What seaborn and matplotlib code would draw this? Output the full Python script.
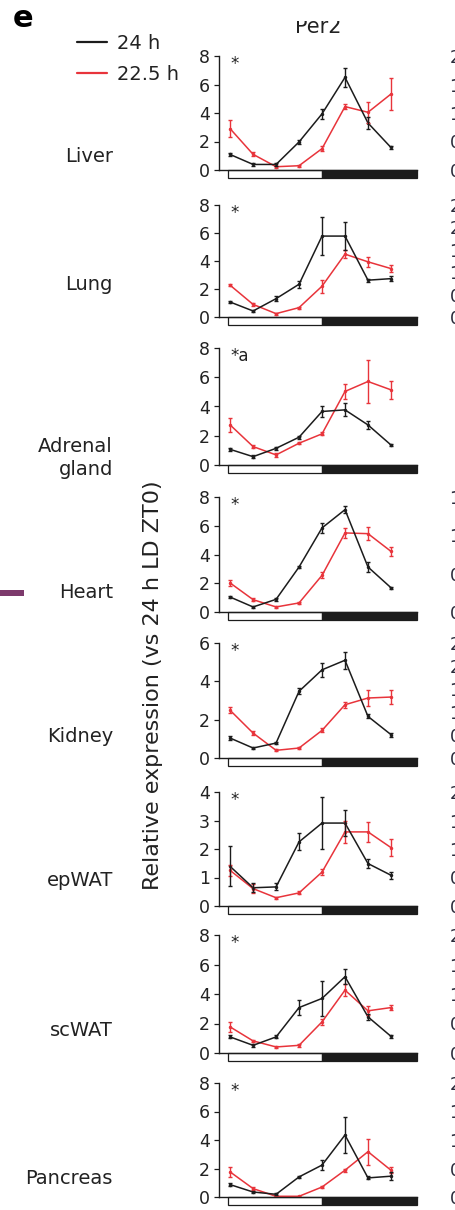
import numpy as np
import pandas as pd
import matplotlib
matplotlib.use("Agg")
import matplotlib.pyplot as plt
import matplotlib.transforms as mtransforms
from matplotlib.patches import Rectangle
from matplotlib.lines import Line2D
from matplotlib.ticker import FormatStrFormatter
import seaborn as sns

# ---------------- data ----------------
ZT = [0, 3, 6, 9, 12, 15, 18, 21]
conditions = ["24 h", "22.5 h"]
tissues = ["Liver", "Lung", "Adrenal\ngland", "Heart", "Kidney", "epWAT", "scWAT", "Pancreas"]
markers_txt = ["*", "*", "*a", "*", "*", "*", "*", "*"]
y_max = [8, 8, 8, 8, 6, 4, 8, 8]
y_step = [2, 2, 2, 2, 2, 1, 2, 2]
right_max = [2.0, 2.5, None, 1.5, 2.5, 2.0, 2.0, 2.0]   # tick labels of the neighbouring (cropped) column

liver_24 = [1.09, 0.39, 0.39, 1.97, 3.94, 6.50, 3.30, 1.58]
liver_24_err = [0.08, 0.08, 0.08, 0.15, 0.35, 0.65, 0.40, 0.08]
liver_225 = [2.90, 1.10, 0.23, 0.30, 1.50, 4.45, 4.05, 5.33]
liver_225_err = [0.60, 0.15, 0.08, 0.08, 0.15, 0.15, 0.75, 1.15]

lung_24 = [1.07, 0.43, 1.31, 2.34, 5.78, 5.78, 2.63, 2.74]
lung_24_err = [0.10, 0.08, 0.20, 0.25, 1.35, 1.00, 0.10, 0.20]
lung_225 = [2.27, 0.90, 0.24, 0.67, 2.20, 4.49, 3.94, 3.46]
lung_225_err = [0.08, 0.08, 0.08, 0.08, 0.45, 0.30, 0.35, 0.25]

adrenal_24 = [1.07, 0.57, 1.14, 1.90, 3.66, 3.77, 2.74, 1.37]
adrenal_24_err = [0.08, 0.08, 0.10, 0.10, 0.35, 0.45, 0.30, 0.08]
adrenal_225 = [2.74, 1.26, 0.69, 1.49, 2.13, 5.03, 5.71, 5.14]
adrenal_225_err = [0.45, 0.10, 0.15, 0.08, 0.10, 0.50, 1.50, 0.60]

heart_24 = [1.04, 0.35, 0.88, 3.13, 5.85, 7.12, 3.13, 1.69]
heart_24_err = [0.08, 0.08, 0.08, 0.08, 0.35, 0.25, 0.35, 0.08]
heart_225 = [2.02, 0.86, 0.35, 0.63, 2.55, 5.50, 5.45, 4.22]
heart_225_err = [0.20, 0.08, 0.08, 0.08, 0.20, 0.35, 0.45, 0.30]

kidney_24 = [1.04, 0.52, 0.78, 3.48, 4.60, 5.10, 2.17, 1.22]
kidney_24_err = [0.10, 0.05, 0.05, 0.15, 0.35, 0.45, 0.10, 0.10]
kidney_225 = [2.49, 1.30, 0.40, 0.52, 1.44, 2.78, 3.13, 3.18]
kidney_225_err = [0.15, 0.10, 0.05, 0.05, 0.10, 0.15, 0.40, 0.35]

epwat_24 = [1.39, 0.64, 0.67, 2.25, 2.91, 2.91, 1.49, 1.08]
epwat_24_err = [0.70, 0.15, 0.12, 0.30, 0.90, 0.45, 0.15, 0.12]
epwat_225 = [1.25, 0.61, 0.29, 0.46, 1.19, 2.60, 2.60, 2.05]
epwat_225_err = [0.20, 0.15, 0.04, 0.05, 0.10, 0.40, 0.35, 0.30]

scwat_24 = [1.09, 0.52, 1.09, 3.08, 3.70, 5.17, 2.45, 1.13]
scwat_24_err = [0.10, 0.08, 0.10, 0.50, 1.20, 0.50, 0.20, 0.08]
scwat_225 = [1.77, 0.82, 0.41, 0.52, 2.11, 4.26, 2.86, 3.08]
scwat_225_err = [0.35, 0.08, 0.08, 0.08, 0.20, 0.40, 0.30, 0.15]

pancreas_24 = [0.87, 0.35, 0.19, 1.41, 2.24, 4.35, 1.34, 1.46]
pancreas_24_err = [0.08, 0.08, 0.08, 0.08, 0.35, 1.25, 0.10, 0.30]
pancreas_225 = [1.76, 0.59, 0.05, 0.05, 0.70, 1.88, 3.18, 1.88]
pancreas_225_err = [0.35, 0.08, 0.04, 0.04, 0.08, 0.10, 0.90, 0.20]

series = [
    (liver_24, liver_24_err, liver_225, liver_225_err),
    (lung_24, lung_24_err, lung_225, lung_225_err),
    (adrenal_24, adrenal_24_err, adrenal_225, adrenal_225_err),
    (heart_24, heart_24_err, heart_225, heart_225_err),
    (kidney_24, kidney_24_err, kidney_225, kidney_225_err),
    (epwat_24, epwat_24_err, epwat_225, epwat_225_err),
    (scwat_24, scwat_24_err, scwat_225, scwat_225_err),
    (pancreas_24, pancreas_24_err, pancreas_225, pancreas_225_err),
]

# ---------------- style / layout ----------------
sns.set_style("ticks")
plt.rcParams["font.family"] = ["DejaVu Sans"]
plt.rcParams["axes.edgecolor"] = "#222222"

BLACK = "#1c1c1c"
RED = "#e8343b"
TXT = "#222222"

W, H = 456, 1210
fig = plt.figure(figsize=(W / 100, H / 100), dpi=100)
fig.patch.set_facecolor("white")


def fx(px):
    return px / W


def fy(py):
    return 1 - py / H


ax_left, ax_right = 219, 417
top_px = [56, 205, 348, 497, 643, 792, 935, 1083]
zero_px = [170, 317, 465, 612, 758, 906, 1053, 1197]
label_px = [157, 284, 458, 592, 736, 881, 1030, 1178]

for i in range(8):
    m24, e24, m22, e22 = series[i]
    ax = fig.add_axes([fx(ax_left), fy(zero_px[i]), fx(ax_right) - fx(ax_left),
                       (zero_px[i] - top_px[i]) / H])
    df = pd.DataFrame({
        "ZT": ZT + ZT,
        "expr": m24 + m22,
        "cond": [conditions[0]] * len(ZT) + [conditions[1]] * len(ZT),
    })
    sns.lineplot(data=df, x="ZT", y="expr", hue="cond", hue_order=conditions[::-1],
                 palette={conditions[0]: BLACK, conditions[1]: RED},
                 marker="o", markersize=2.5, markeredgewidth=0, linewidth=1.1,
                 errorbar=None, legend=False, ax=ax)
    ax.errorbar(ZT, m22, yerr=e22, fmt="none", ecolor=RED, elinewidth=1.0, capsize=1.5, capthick=1.0)
    ax.errorbar(ZT, m24, yerr=e24, fmt="none", ecolor=BLACK, elinewidth=1.0, capsize=1.5, capthick=1.0)

    ax.set_xlim(-1.45, 24.4)
    ax.set_ylim(0, y_max[i])
    ax.set_yticks(np.arange(0, y_max[i] + 0.001, y_step[i]))
    ax.set_xticks([])
    ax.set_xlabel("")
    ax.set_ylabel("")
    ax.patch.set_alpha(0)
    for s in ["top", "right"]:
        ax.spines[s].set_visible(False)
    for s in ["left", "bottom"]:
        ax.spines[s].set_linewidth(1.0)
        ax.spines[s].set_color(BLACK)
    ax.tick_params(axis="y", length=3.5, width=0.9, pad=3, labelsize=12.5,
                   colors=BLACK, labelcolor=TXT)

    # light / dark bar under the axis
    trans = mtransforms.blended_transform_factory(ax.transData, ax.transAxes)
    bh = 8 / (zero_px[i] - top_px[i])
    ax.add_patch(Rectangle((-0.3, -bh), 12.3, bh, transform=trans, facecolor="white",
                           edgecolor=BLACK, linewidth=0.9, clip_on=False))
    ax.add_patch(Rectangle((12, -bh), 12.4, bh, transform=trans, facecolor=BLACK,
                           edgecolor=BLACK, linewidth=0.9, clip_on=False))

    ax.text(0.06, 0.93, markers_txt[i], transform=ax.transAxes, ha="left", va="center",
            fontsize=12, color=TXT)

    fig.text(fx(113), fy(label_px[i]), tissues[i], ha="right", va="center",
             fontsize=14, color=TXT, linespacing=1.25)

    # neighbouring column (cropped by the figure edge): only its tick labels peek in
    if right_max[i] is not None:
        ax2 = fig.add_axes([fx(486), fy(zero_px[i]), 0.3, (zero_px[i] - top_px[i]) / H])
        ax2.set_ylim(0, right_max[i])
        ax2.set_yticks(np.arange(0, right_max[i] + 0.001, 0.5))
        ax2.yaxis.set_major_formatter(FormatStrFormatter("%.1f"))
        ax2.set_xticks([])
        for s in ["top", "right", "bottom"]:
            ax2.spines[s].set_visible(False)
        ax2.tick_params(axis="y", length=3.5, pad=3, labelsize=12.5, labelcolor="#2a2a3a")

# y label
fig.text(fx(153), fy(685), "Relative expression (vs 24 h LD ZT0)", rotation=90,
         ha="center", va="center", fontsize=16, color=TXT)

# panel letter
fig.text(fx(13), fy(27), "e", fontsize=22, fontweight="bold", ha="left", va="baseline", color="black")

# gene title (top partly cut away in the reference)
fig.text(fx(318), fy(33), "Per2", ha="center", va="baseline", fontsize=15, color=TXT)
fig.add_artist(Rectangle((fx(240), fy(21)), fx(180), 21 / H, transform=fig.transFigure,
                         facecolor="white", edgecolor="none", zorder=20))

# legend
handles = [Line2D([], [], color=BLACK, lw=1.6), Line2D([], [], color=RED, lw=1.6)]
fig.legend(handles, conditions, loc="upper left", bbox_to_anchor=(fx(77), fy(34)),
           frameon=False, fontsize=14, handlelength=1.55, handletextpad=0.5,
           labelspacing=0.6, borderpad=0, borderaxespad=0, labelcolor=TXT)

# purple marker at the left edge
fig.add_artist(Rectangle((0, fy(596)), fx(24), 6 / H, transform=fig.transFigure,
                         facecolor="#7d3a6c", edgecolor="none"))

fig.savefig("out.png", dpi=100)
